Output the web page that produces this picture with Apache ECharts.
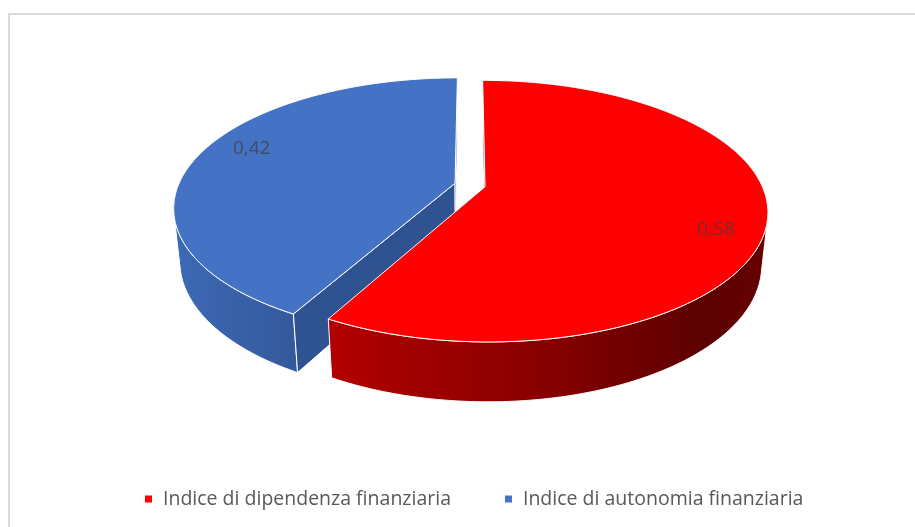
<!DOCTYPE html>
<html>
<head>
<meta charset="utf-8">
<script src="https://cdn.jsdelivr.net/npm/echarts@6/dist/echarts.min.js"></script>
<style>
html, body { margin: 0; padding: 0; background: #fff; }
#main { width: 915px; height: 527px; }
</style>
</head>
<body>
<div id="main"></div>
<script>
var categories = ['Indice di dipendenza finanziaria', 'Indice di autonomia finanziaria'];
var values = [0.58, 0.42];
var valueLabels = ['0,58', '0,42'];

var topColors = ['#ff0000', '#4472c4'];
var wallStops = [
  [[0, '#b20000'], [0.5, '#860000'], [0.85, '#5c0000'], [1, '#660000']],
  [[0, '#3e69b7'], [1, '#33599b']]
];
var cutColors = ['#8a0000', '#2f5291'];

// simple perspective view of a tilted disc (radius = 1 unit)
var view = { cx: 470, cy: 185, f: 1325, dist: 4.79, cosA: 0.891, sinA: 0.454, thick: 0.215, explode: 0.056 };

function project(x, d, h) {
  var yy = -d * view.sinA - h * view.cosA;
  var z = view.dist + d * view.cosA - h * view.sinA;
  return [view.cx + view.f * x / z, view.cy + view.f * yy / z];
}

function rad(a) { return a * Math.PI / 180; }

function sliceAngles(i) {
  var total = 0;
  values.forEach(function (v) { total += v; });
  var start = 0;
  for (var k = 0; k < i; k++) start += values[k] / total * 360;
  return [start, start + values[i] / total * 360];
}

var cam = [0, -view.dist * view.cosA, view.dist * view.sinA];

function makeRender(i) {
  return function (params, api) {
    var ang = sliceAngles(i);
    var a0 = rad(ang[0]), a1 = rad(ang[1]), am = (a0 + a1) / 2;
    var ox = view.explode * Math.sin(am), od = view.explode * Math.cos(am);
    var T = -view.thick;
    function pt(r, a, h) { return project(ox + r * Math.sin(a), od + r * Math.cos(a), h); }
    function facing(nx, nd, px, pd) {
      return nx * (cam[0] - px) + nd * (cam[1] - pd) > 0;
    }
    var steps = Math.ceil((ang[1] - ang[0]) * 2);
    var children = [];

    // outer wall, only the part turned to the viewer
    var runs = [], cur = null;
    for (var s = 0; s <= steps; s++) {
      var a = a0 + (a1 - a0) * s / steps;
      if (facing(Math.sin(a), Math.cos(a), ox + Math.sin(a), od + Math.cos(a))) {
        if (!cur) { cur = []; runs.push(cur); }
        cur.push(a);
      } else cur = null;
    }
    runs.forEach(function (run) {
      if (run.length < 2) return;
      var pts = run.map(function (a) { return pt(1, a, 0); });
      for (var k = run.length - 1; k >= 0; k--) pts.push(pt(1, run[k], T));
      children.push({
        type: 'polygon',
        shape: { points: pts },
        style: {
          fill: new echarts.graphic.LinearGradient(0, 0, 1, 0, wallStops[i].map(function (st) {
            return { offset: st[0], color: st[1] };
          })),
          stroke: '#fff', lineWidth: 1
        }
      });
    });

    // cut faces
    [[a0, -Math.cos(a0), Math.sin(a0)], [a1, Math.cos(a1), -Math.sin(a1)]].forEach(function (c) {
      var a = c[0];
      if (!facing(c[1], c[2], ox + 0.5 * Math.sin(a), od + 0.5 * Math.cos(a))) return;
      children.push({
        type: 'polygon',
        shape: { points: [pt(0, a, 0), pt(1, a, 0), pt(1, a, T), pt(0, a, T)] },
        style: { fill: cutColors[i], stroke: '#fff', lineWidth: 1 }
      });
    });

    // top face
    var topPts = [pt(0, a0, 0)];
    for (var s2 = 0; s2 <= steps; s2++) topPts.push(pt(1, a0 + (a1 - a0) * s2 / steps, 0));
    children.push({
      type: 'polygon',
      shape: { points: topPts },
      style: { fill: topColors[i], stroke: '#fff', lineWidth: 1 }
    });

    // value label
    var lp = pt(0.84, am + rad(7), 0);
    children.push({
      type: 'text',
      x: lp[0], y: lp[1] + 2,
      style: {
        text: valueLabels[i],
        fill: 'rgba(64,64,64,0.75)',
        font: '19px "Open Sans"',
        align: 'center',
        verticalAlign: 'middle'
      }
    });

    return { type: 'group', children: children };
  };
}

// draw the slice lying further back first
var order = categories.map(function (c, i) { return i; });
order.sort(function (p, q) {
  var mp = sliceAngles(p), mq = sliceAngles(q);
  return Math.cos(rad((mq[0] + mq[1]) / 2)) - Math.cos(rad((mp[0] + mp[1]) / 2));
});

var myChart = echarts.init(document.getElementById('main'));

var option = {
  animation: false,
  color: topColors,
  graphic: [{
    type: 'rect',
    shape: { x: 9, y: 14, width: 1000, height: 600 },
    style: { fill: 'none', stroke: '#d9d9d9', lineWidth: 2 },
    silent: true
  }],
  legend: {
    data: categories,
    left: 140,
    top: 483,
    icon: 'rect',
    itemWidth: 7,
    itemHeight: 7,
    itemGap: 54,
    textStyle: {
      color: '#595959',
      fontFamily: 'Open Sans',
      fontSize: 19.5,
      lineHeight: 22,
      padding: [0, 0, 0, 6]
    }
  },
  series: order.map(function (i) {
    return {
      type: 'custom',
      name: categories[i],
      coordinateSystem: 'none',
      silent: true,
      itemStyle: { color: topColors[i] },
      renderItem: makeRender(i),
      data: [values[i]]
    };
  })
};

myChart.setOption(option);
</script>
</body>
</html>
